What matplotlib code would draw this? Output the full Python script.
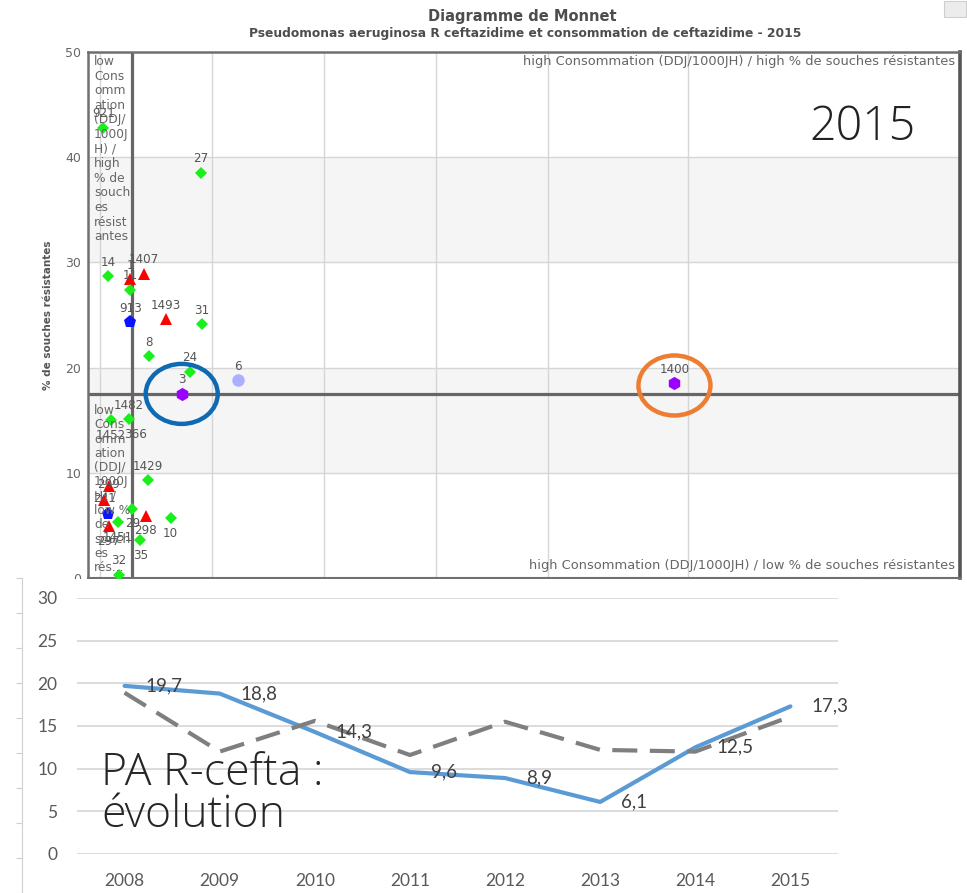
import matplotlib
matplotlib.use('Agg')
import matplotlib.pyplot as plt
from matplotlib.patches import Ellipse, Rectangle

W, H = 967, 893

# ---------------- Monnet scatter data ----------------
codes = ["921", "27", "14", "1", "1407", "11", "913", "1493", "31", "8", "24", "6", "3",
         "1400", "1482", "1452", "1429", "299", "241", "", "297", "1451", "29", "298",
         "35", "10", "32"]
conso = [0.03, 0.90, 0.07, 0.27, 0.39, 0.27, 0.27, 0.59, 0.91, 0.44, 0.80, 1.23, 0.73,
         5.13, 0.26, 0.10, 0.43, 0.08, 0.04, 0.07, 0.08, 0.16, 0.29, 0.41,
         0.36, 0.63, 0.17]
resist = [42.8, 38.5, 28.7, 28.4, 28.9, 27.4, 24.3, 24.6, 24.1, 21.1, 19.6, 18.8, 17.5,
          18.5, 15.1, 15.0, 9.3, 8.7, 7.4, 6.1, 4.9, 5.3, 6.6, 5.9,
          3.6, 5.7, 0.3]
kinds = ["g", "g", "g", "r", "r", "g", "b", "r", "g", "g", "g", "l", "p",
         "p", "g", "g", "g", "r", "r", "b", "r", "g", "g", "r",
         "g", "g", "g"]
label_side = ["a", "a", "a", "a", "a", "a", "a", "a", "a", "a", "a", "a", "a",
              "a", "a", "b", "a", "c", "c", "c", "b", "b", "b", "b",
              "b", "b", "a"]
extra_labels = ["366"]
extra_anchor = [14]

mean_conso = 0.29
mean_resist = 17.5

# ---------------- evolution line chart data ----------------
years = ["2008", "2009", "2010", "2011", "2012", "2013", "2014", "2015"]
pa_r = [19.7, 18.8, 14.3, 9.6, 8.9, 6.1, 12.5, 17.3]
reference = [18.9, 12.0, 15.6, 11.6, 15.5, 12.2, 12.0, 16.1]

# ---------------- styles ----------------
kind_style = {
    "g": dict(marker="D", color="#19f019", ms=6.2),
    "r": dict(marker="^", color="#ff0000", ms=8.5),
    "b": dict(marker="p", color="#0a14ff", ms=9.5),
    "p": dict(marker="h", color="#9a00ff", ms=9.5),
    "l": dict(marker="o", color="#aab0ff", ms=9.0),
}
label_dy = {"a": 14, "b": -15, "c": 2}
big_font = dict(family=["Open Sans", "Lato"], fontweight="light")


def fr(x0, y0, x1, y1):
    return [x0 / W, 1 - y1 / H, (x1 - x0) / W, (y1 - y0) / H]


fig = plt.figure(figsize=(W / 100, H / 100), dpi=100)
fig.patch.set_facecolor("white")

# titles
fig.text(522 / W, 1 - 16 / H, "Diagramme de Monnet", ha="center", va="center",
         fontsize=10.5, fontweight="bold", color="#4d4d4d")
fig.text(525 / W, 1 - 34 / H,
         "Pseudomonas aeruginosa R ceftazidime et consommation de ceftazidime - 2015",
         ha="center", va="center", fontsize=8.8, fontweight="bold", color="#4d4d4d")
fig.patches.append(Rectangle((944 / W, 1 - 17 / H), 22 / W, 16 / H, transform=fig.transFigure,
                             facecolor="#ececec", edgecolor="#cfcfcf", lw=0.8))

ax = fig.add_axes(fr(88, 52, 960, 578))
ax.set_xlim(-0.107, 7.68)
ax.set_ylim(0, 50)
ax.set_facecolor("white")
for lo, hi in [(30, 40), (10, 20)]:
    ax.axhspan(lo, hi, color="#f5f5f5", zorder=0, lw=0)
ax.set_yticks([0, 10, 20, 30, 40, 50])
ax.set_xticks([0, 1, 2, 3, 4, 5.25])
ax.grid(True, color="#d6d6d6", lw=1.0, zorder=1)
ax.set_axisbelow(True)
ax.tick_params(axis="x", labelbottom=False, length=0)
ax.tick_params(axis="y", length=0, labelsize=9, labelcolor="#666666", pad=5)
ax.set_ylabel("% de souches résistantes", fontsize=7.5, fontweight="bold",
              color="#555555", labelpad=9)
for s in ["left", "top"]:
    ax.spines[s].set_color("#707070")
    ax.spines[s].set_linewidth(1.8)
ax.spines["right"].set_color("#555555")
ax.spines["right"].set_linewidth(2.6)
ax.spines["bottom"].set_color("#707070")
ax.spines["bottom"].set_linewidth(1.5)

ax.axvline(mean_conso, color="#666666", lw=2.3, zorder=2)
ax.axhline(mean_resist, color="#666666", lw=2.3, zorder=2)

for x, y, k in zip(conso, resist, kinds):
    st = kind_style[k]
    ax.plot([x], [y], linestyle="none", marker=st["marker"], color=st["color"],
            markersize=st["ms"], markeredgewidth=0, zorder=5, clip_on=False)

for c, x, y, side in zip(codes, conso, resist, label_side):
    if c:
        ax.annotate(c, (x, y), xytext=(0, label_dy[side]), textcoords="offset pixels",
                    ha="center", va="center", fontsize=8.6, color="#555555", zorder=6)
for c, i in zip(extra_labels, extra_anchor):
    ax.annotate(c, (conso[i], resist[i]), xytext=(6, -15), textcoords="offset pixels",
                ha="center", va="center", fontsize=8.6, color="#555555", zorder=6)

# quadrant labels
qkw = dict(fontsize=8.8, color="#666666", linespacing=1.16)
fig.text(94 / W, 1 - 55 / H,
         "low\nCons\nomm\nation\n(DDJ/\n1000J\nH) /\nhigh\n% de\nsouch\nes\nrésist\nantes",
         ha="left", va="top", **qkw)
fig.text(94 / W, 1 - 404 / H,
         "low\nCons\nomm\nation\n(DDJ/\n1000J\nH) /\nlow %\nde\nsouch\nes\nrés...",
         ha="left", va="top", fontsize=8.8, color="#666666", linespacing=1.13)
fig.text(955 / W, 1 - 62 / H,
         "high Consommation (DDJ/1000JH) / high % de souches résistantes",
         ha="right", va="center", fontsize=9.4, color="#666666")
fig.text(955 / W, 1 - 565 / H,
         "high Consommation (DDJ/1000JH) / low % de souches résistantes",
         ha="right", va="center", fontsize=9.4, color="#666666")

# highlight ellipses
px_x = (7.68 + 0.107) / 872.0
px_y = 50.0 / 526.0
i3 = codes.index("3")
i1400 = codes.index("1400")
ax.add_patch(Ellipse((conso[i3], resist[i3]), 72 * px_x, 60 * px_y, fill=False,
                     edgecolor="#0f6ab4", lw=3.2, zorder=7, clip_on=False))
ax.add_patch(Ellipse((conso[i1400], resist[i1400] - 0.2), 72 * px_x, 60 * px_y, fill=False,
                     edgecolor="#ed7d31", lw=3.2, zorder=7, clip_on=False))

fig.text(862 / W, 1 - 128 / H, "2015", ha="center", va="center", fontsize=33.5,
         color="#222222", **big_font)

# ---------------- evolution chart overlay ----------------
fig.patches.append(Rectangle((0, 0), 862 / W, 1 - 579 / H, transform=fig.transFigure,
                             facecolor="white", edgecolor="none", zorder=1))

dax = fig.add_axes(fr(22, 578, 23, 893))
dax.set_zorder(2)
dax.set_ylim(0, 315)
dax.set_yticks(range(0, 316, 35))
dax.set_xticks([])
dax.tick_params(axis="y", direction="out", length=4, color="#d0d0d0", labelleft=False)
for s in ["top", "right", "bottom"]:
    dax.spines[s].set_visible(False)
dax.spines["left"].set_color("#d0d0d0")
dax.patch.set_alpha(0)

lax = fig.add_axes(fr(77, 598, 838, 854))
lax.set_zorder(3)
lax.patch.set_alpha(0)
xs = list(range(len(years)))
lax.set_xlim(-0.5, len(years) - 0.5)
lax.set_ylim(0, 30)
lax.set_yticks(range(0, 31, 5))
lax.set_xticks(xs)
lax.set_xticklabels(years)
lax.grid(axis="y", color="#d9d9d9", lw=1.3)
lax.set_axisbelow(True)
for s in lax.spines.values():
    s.set_visible(False)
lax.tick_params(length=0, labelsize=12.5, labelcolor="#595959")
lax.tick_params(axis="y", pad=14)
lax.tick_params(axis="x", pad=14)
for lbl in lax.get_xticklabels() + lax.get_yticklabels():
    lbl.set_family("Lato")

lax.plot(xs, pa_r, color="#5b9bd5", lw=3.0, solid_capstyle="round", zorder=3)
lax.plot(xs, reference, color="#7f7f7f", lw=3.0, dashes=(6, 3), zorder=4)
for x, v in zip(xs, pa_r):
    lax.annotate(f"{v:.1f}".replace(".", ","), (x, v), xytext=(21, 0),
                 textcoords="offset pixels", ha="left", va="center",
                 fontsize=13.5, family="Lato", color="#404040", zorder=5)

fig.text(101 / W, 1 - 785 / H, "PA R-cefta :", ha="left", va="baseline",
         fontsize=32, color="#262626", zorder=6, **big_font)
fig.text(101 / W, 1 - 827 / H, "évolution", ha="left", va="baseline",
         fontsize=32, color="#262626", zorder=6, **big_font)

fig.savefig("out.png", dpi=100, facecolor="white")
